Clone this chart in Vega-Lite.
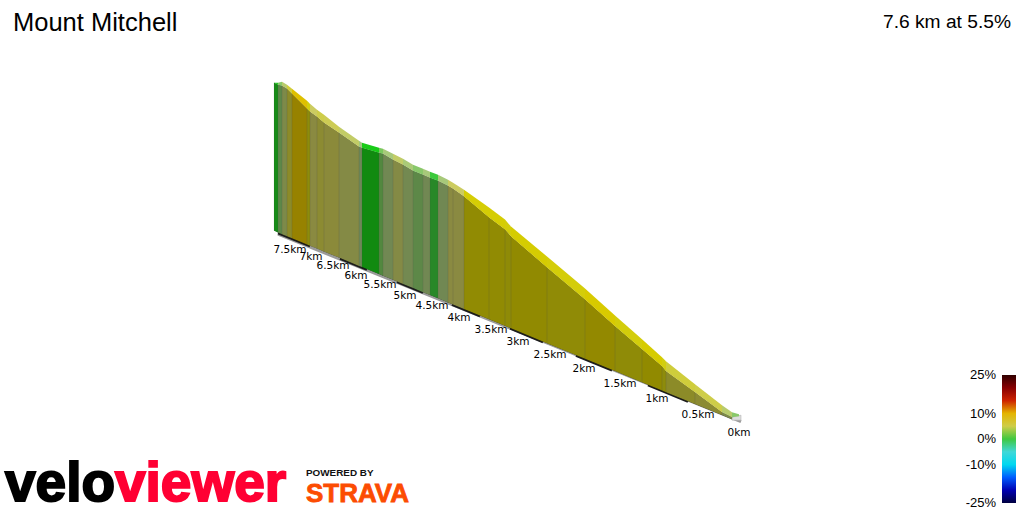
{"$schema":"https://vega.github.io/schema/vega-lite/v6.json","width":1024,"height":512,"padding":0,"autosize":{"type":"fit","contains":"padding"},"background":"white","config":{"view":{"stroke":null}},
"datasets":{
"wall":[
{"s":0,"x":274,"top":83,"back":83,"base":231,"grade":-1},{"s":0,"x":278,"top":85,"back":83,"base":233,"grade":-1},
{"s":1,"x":278,"top":85,"back":83,"base":233,"grade":1},{"s":1,"x":282,"top":86,"back":82,"base":234.6,"grade":1},
{"s":2,"x":282,"top":86,"back":82,"base":234.6,"grade":3},{"s":2,"x":287,"top":89,"back":85,"base":236.7,"grade":3},
{"s":3,"x":287,"top":89,"back":85,"base":236.7,"grade":5.5},{"s":3,"x":292,"top":94,"back":89,"base":238.8,"grade":5.5},
{"s":4,"x":292,"top":94,"back":89,"base":238.8,"grade":9},{"s":4,"x":307,"top":109,"back":101,"base":245,"grade":9},
{"s":5,"x":307,"top":109,"back":101,"base":245,"grade":6.5},{"s":5,"x":310,"top":112,"back":104,"base":246.2,"grade":6.5},
{"s":6,"x":310,"top":112,"back":104,"base":246.2,"grade":4},{"s":6,"x":317,"top":117,"back":110,"base":249.1,"grade":4},
{"s":7,"x":317,"top":117,"back":110,"base":249.1,"grade":5},{"s":7,"x":324,"top":123,"back":115,"base":252,"grade":5},
{"s":8,"x":324,"top":123,"back":115,"base":252,"grade":4.5},{"s":8,"x":339,"top":133,"back":127,"base":258.1,"grade":4.5},
{"s":9,"x":339,"top":133,"back":127,"base":258.1,"grade":3.5},{"s":9,"x":359,"top":147,"back":141,"base":266.4,"grade":3.5},
{"s":10,"x":359,"top":147,"back":141,"base":266.4,"grade":1.5},{"s":10,"x":362,"top":148,"back":143,"base":267.6,"grade":1.5},
{"s":11,"x":362,"top":148,"back":143,"base":267.6,"grade":-1.2},{"s":11,"x":379,"top":153,"back":148,"base":274.6,"grade":-1.2},
{"s":12,"x":379,"top":153,"back":148,"base":274.6,"grade":0.7},{"s":12,"x":383,"top":154,"back":149,"base":276.3,"grade":0.7},
{"s":13,"x":383,"top":154,"back":149,"base":276.3,"grade":2},{"s":13,"x":393,"top":160,"back":154,"base":280.4,"grade":2},
{"s":14,"x":393,"top":160,"back":154,"base":280.4,"grade":3.5},{"s":14,"x":403,"top":165,"back":159,"base":284.5,"grade":3.5},
{"s":15,"x":403,"top":165,"back":159,"base":284.5,"grade":2.2},{"s":15,"x":413,"top":171,"back":165,"base":288.6,"grade":2.2},
{"s":16,"x":413,"top":171,"back":165,"base":288.6,"grade":1},{"s":16,"x":423,"top":175,"back":169,"base":292.7,"grade":1},
{"s":17,"x":423,"top":175,"back":169,"base":292.7,"grade":2},{"s":17,"x":430,"top":178,"back":172,"base":295.6,"grade":2},
{"s":18,"x":430,"top":178,"back":172,"base":295.6,"grade":-0.2},{"s":18,"x":438,"top":181,"back":175,"base":298.9,"grade":-0.2},
{"s":19,"x":438,"top":181,"back":175,"base":298.9,"grade":2},{"s":19,"x":448,"top":186,"back":180,"base":303,"grade":2},
{"s":20,"x":448,"top":186,"back":180,"base":303,"grade":4},{"s":20,"x":453,"top":189,"back":183,"base":305.1,"grade":4},
{"s":21,"x":453,"top":189,"back":183,"base":305.1,"grade":4},{"s":21,"x":464,"top":197,"back":190,"base":309.6,"grade":4},
{"s":22,"x":464,"top":197,"back":190,"base":309.6,"grade":7.5},{"s":22,"x":489,"top":218,"back":208,"base":319.9,"grade":7.5},
{"s":23,"x":489,"top":218,"back":208,"base":319.9,"grade":7.6},{"s":23,"x":505,"top":230,"back":220,"base":326.5,"grade":7.6},
{"s":24,"x":505,"top":230,"back":220,"base":326.5,"grade":7},{"s":24,"x":511,"top":237,"back":227,"base":329,"grade":7},
{"s":25,"x":511,"top":237,"back":227,"base":329,"grade":7.8},{"s":25,"x":547,"top":268,"back":257,"base":343.8,"grade":7.8},
{"s":26,"x":547,"top":268,"back":257,"base":343.8,"grade":7.2},{"s":26,"x":585,"top":300,"back":289,"base":359.5,"grade":7.2},
{"s":27,"x":585,"top":300,"back":289,"base":359.5,"grade":8.2},{"s":27,"x":615,"top":327,"back":316,"base":371.8,"grade":8.2},
{"s":28,"x":615,"top":327,"back":316,"base":371.8,"grade":7},{"s":28,"x":642,"top":350,"back":340,"base":383,"grade":7},
{"s":29,"x":642,"top":350,"back":340,"base":383,"grade":8},{"s":29,"x":662,"top":367,"back":358,"base":391.2,"grade":8},
{"s":30,"x":662,"top":367,"back":358,"base":391.2,"grade":6.5},{"s":30,"x":666,"top":372,"back":362,"base":392.9,"grade":6.5},
{"s":31,"x":666,"top":372,"back":362,"base":392.9,"grade":5.5},{"s":31,"x":695,"top":393,"back":385,"base":404.8,"grade":5.5},
{"s":32,"x":695,"top":393,"back":385,"base":404.8,"grade":5},{"s":32,"x":722,"top":413,"back":406,"base":415.9,"grade":5},
{"s":33,"x":722,"top":413,"back":406,"base":415.9,"grade":3},{"s":33,"x":732,"top":418,"back":413,"base":420,"grade":3},
{"s":34,"x":732,"top":418,"back":413,"base":418,"grade":1},{"s":34,"x":739,"top":417,"back":415,"base":417,"grade":1}
],
"baseline":[{"x":278,"y":234.5},{"x":741,"y":422.5}],
"strips":[
{"k":1,"x":278,"y":233.5},{"k":1,"x":310,"y":246.7},
{"k":2,"x":340,"y":259},{"k":2,"x":367,"y":270.2},
{"k":3,"x":397,"y":282.5},{"k":3,"x":423,"y":293.2},
{"k":4,"x":452,"y":305.2},{"k":4,"x":480,"y":316.7},
{"k":5,"x":510,"y":329.1},{"k":5,"x":543,"y":342.7},
{"k":6,"x":576,"y":356.3},{"k":6,"x":612,"y":371.1},
{"k":7,"x":648,"y":385.9},{"k":7,"x":688,"y":402.4}],
"cap":[{"x":732,"y":418,"y2":421},{"x":741,"y":416,"y2":421}],
"kms":[{"t":"0km","x":739,"y":434},{"t":"0.5km","x":698,"y":416},{"t":"1km","x":657,"y":400},{"t":"1.5km","x":620,"y":385},{"t":"2km","x":584,"y":370},{"t":"2.5km","x":550,"y":356},{"t":"3km","x":518,"y":343},{"t":"3.5km","x":491,"y":331},{"t":"4km","x":459,"y":319},{"t":"4.5km","x":432,"y":307},{"t":"5km","x":405,"y":297},{"t":"5.5km","x":380,"y":286},{"t":"6km","x":356,"y":277},{"t":"6.5km","x":333,"y":267},{"t":"7km","x":311,"y":258},{"t":"7.5km","x":290,"y":250}],
"ramp":[{"t":"25%","x":996,"y":376},{"t":"10%","x":996,"y":415},{"t":"0%","x":996,"y":440},{"t":"-10%","x":996,"y":466},{"t":"-25%","x":996,"y":504}]
},
"encoding":{"x":{"type":"quantitative","scale":{"domain":[0,1024],"nice":false,"zero":false},"axis":null},"y":{"type":"quantitative","scale":{"domain":[512,0],"nice":false,"zero":false},"axis":null}},
"layer":[
{"data":{"name":"baseline"},"mark":{"type":"line","color":"#9a9a9a","strokeWidth":3},"encoding":{"x":{"field":"x"},"y":{"field":"y"}}},
{"data":{"name":"strips"},"mark":{"type":"line","color":"#1c1c1c","strokeWidth":2.5},"encoding":{"x":{"field":"x"},"y":{"field":"y"},"detail":{"field":"k"}}},
{"data":{"name":"cap"},"mark":{"type":"area","color":"#dddddd","stroke":"#aaaaaa","strokeWidth":0.5,"orient":"vertical"},"encoding":{"x":{"field":"x"},"y":{"field":"y"},"y2":{"field":"y2"}}},
{"data":{"name":"wall"},"mark":{"type":"area","color":"#000000","orient":"vertical"},"encoding":{"x":{"field":"x"},"y":{"field":"top"},"y2":{"field":"base"}}},
{"data":{"name":"wall"},"mark":{"type":"area","opacity":0.68,"orient":"vertical"},"encoding":{"x":{"field":"x"},"y":{"field":"top"},"y2":{"field":"base"},"detail":{"field":"s"},
"color":{"field":"grade","type":"quantitative","scale":{"domain":[-25,-21,-17,-13,-10,-5,-3,-1.5,0,1.5,4,6.5,8,10,12.5,15.5,21,25],"range":["#000040","#0000a0","#0000e8","#0090ff","#00d8f0","#40d8d8","#70c8a0","#00cc00","#40c840","#a0c880","#cccc60","#d2ce10","#d6cc00","#e4b400","#e86a00","#c80000","#7a0000","#300000"]},
"legend":{"orient":"none","legendX":1002,"legendY":375,"title":null,"gradientLength":128,"gradientThickness":14,"gradientStrokeWidth":0,"gradientOpacity":1,"values":[-25,25],"labelExpr":"''","labelOverlap":false}}}},
{"data":{"name":"wall"},"mark":{"type":"rule","color":"#555555","opacity":0.1,"strokeWidth":1},"encoding":{"x":{"field":"x"},"y":{"field":"top"},"y2":{"field":"base"}}},
{"data":{"name":"wall"},"mark":{"type":"area","orient":"vertical"},"encoding":{"x":{"field":"x"},"y":{"field":"top"},"y2":{"field":"back"},"detail":{"field":"s"},"color":{"field":"grade","type":"quantitative"}}},
{"data":{"name":"kms"},"mark":{"type":"text","font":"DejaVu Sans","fontSize":10.5,"color":"#000000"},"encoding":{"x":{"field":"x"},"y":{"field":"y"},"text":{"field":"t"}}},
{"data":{"name":"ramp"},"mark":{"type":"text","font":"Liberation Sans","fontSize":13,"align":"right","color":"#000000"},"encoding":{"x":{"field":"x"},"y":{"field":"y"},"text":{"field":"t"}}},
{"data":{"values":[{"t":"Mount Mitchell","x":13,"y":31}]},"mark":{"type":"text","font":"Liberation Sans","fontSize":25.5,"align":"left","baseline":"alphabetic","color":"#000000"},"encoding":{"x":{"field":"x"},"y":{"field":"y"},"text":{"field":"t"}}},
{"data":{"values":[{"t":"7.6 km at 5.5%","x":1011,"y":28}]},"mark":{"type":"text","font":"Liberation Sans","fontSize":19.2,"align":"right","baseline":"alphabetic","color":"#000000"},"encoding":{"x":{"field":"x"},"y":{"field":"y"},"text":{"field":"t"}}},
{"data":{"values":[{"t":"velo","x":5,"y":502}]},"mark":{"type":"text","font":"Liberation Sans","fontWeight":"bold","fontSize":55,"align":"left","baseline":"alphabetic","color":"#000000","stroke":"#000000","strokeWidth":2},"encoding":{"x":{"field":"x"},"y":{"field":"y"},"text":{"field":"t"}}},
{"data":{"values":[{"t":"viewer","x":115,"y":502}]},"mark":{"type":"text","font":"Liberation Sans","fontWeight":"bold","fontSize":55,"align":"left","baseline":"alphabetic","color":"#ff0033","stroke":"#ff0033","strokeWidth":2},"encoding":{"x":{"field":"x"},"y":{"field":"y"},"text":{"field":"t"}}},
{"data":{"values":[{"t":"POWERED BY","x":306,"y":477}]},"mark":{"type":"text","font":"Liberation Sans","fontWeight":"bold","fontSize":9.9,"align":"left","baseline":"alphabetic","color":"#111111"},"encoding":{"x":{"field":"x"},"y":{"field":"y"},"text":{"field":"t"}}},
{"data":{"values":[{"t":"STRAVA","x":306,"y":503}]},"mark":{"type":"text","font":"Liberation Sans","fontWeight":"bold","fontSize":26,"align":"left","baseline":"alphabetic","color":"#fc4c02","stroke":"#fc4c02","strokeWidth":0.8},"encoding":{"x":{"field":"x"},"y":{"field":"y"},"text":{"field":"t"}}}
]}
